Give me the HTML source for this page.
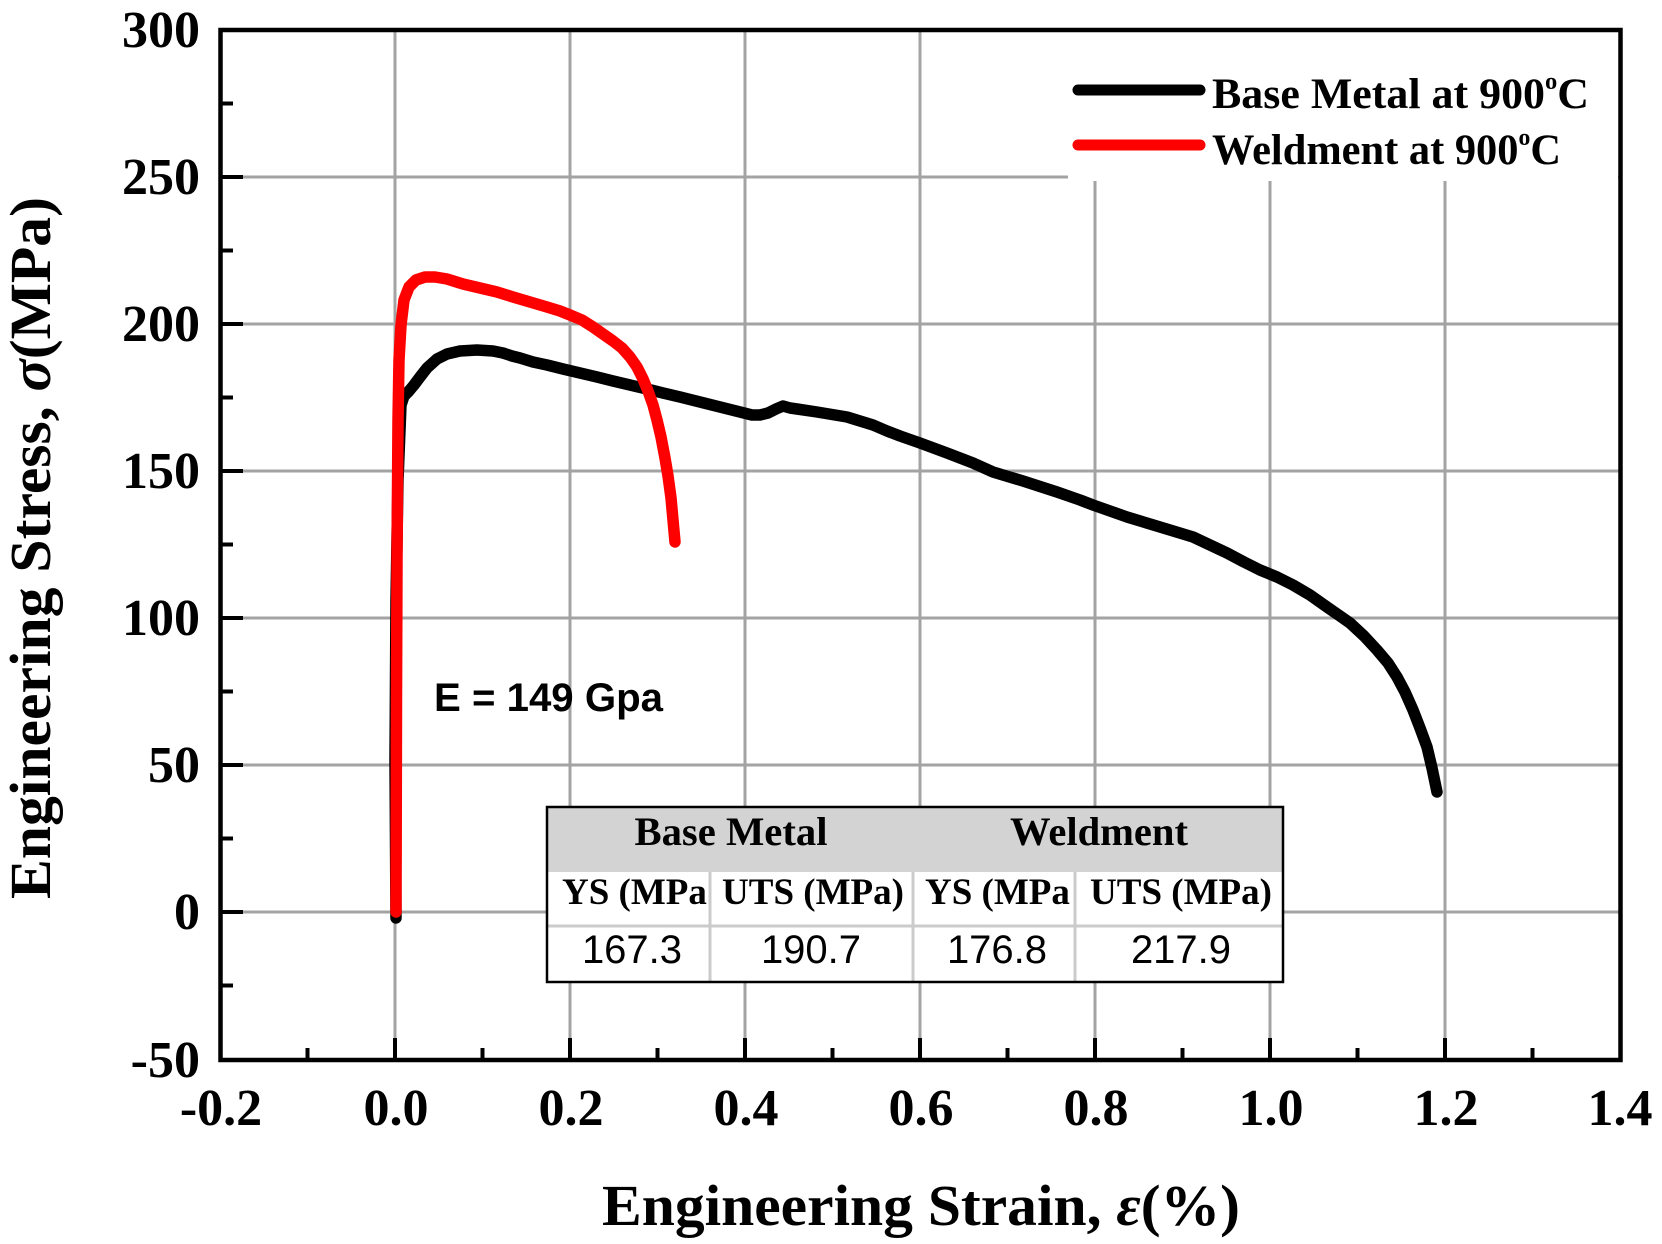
<!DOCTYPE html>
<html>
<head>
<meta charset="utf-8">
<style>
html,body{margin:0;padding:0;background:#fff;}
svg{display:block;}
</style>
</head>
<body>
<svg width="1662" height="1244" viewBox="0 0 1662 1244" xmlns="http://www.w3.org/2000/svg">
<rect x="0" y="0" width="1662" height="1244" fill="#fff"/>

<!-- gridlines -->
<g stroke="#a3a3a3" stroke-width="3">
  <line x1="395" y1="30" x2="395" y2="1060"/>
  <line x1="570" y1="30" x2="570" y2="1060"/>
  <line x1="745" y1="30" x2="745" y2="1060"/>
  <line x1="920" y1="30" x2="920" y2="1060"/>
  <line x1="1095" y1="30" x2="1095" y2="1060"/>
  <line x1="1270" y1="30" x2="1270" y2="1060"/>
  <line x1="1445" y1="30" x2="1445" y2="1060"/>
  <line x1="220" y1="177" x2="1620" y2="177"/>
  <line x1="220" y1="324" x2="1620" y2="324"/>
  <line x1="220" y1="471" x2="1620" y2="471"/>
  <line x1="220" y1="618" x2="1620" y2="618"/>
  <line x1="220" y1="765" x2="1620" y2="765"/>
  <line x1="220" y1="912" x2="1620" y2="912"/>
</g>

<!-- legend background -->
<rect x="1068" y="32" width="550" height="149" fill="#fff"/>

<!-- black curve -->
<path fill="none" stroke="#000" stroke-width="11.5" stroke-linecap="round" stroke-linejoin="round"
d="M396,918 L395,760 L396,600 L398,480 L400,430 L401,405 L404,396 L409,391 L414,385 L420,377 L427,368 L437,359 L447,354 L460,351 L477,350 L493,351 L503,353 L512,356 L520,358 L533,362 L547,365 L563,369 L580,373 L597,377 L613,381 L630,385 L647,389 L663,393 L680,397 L700,402 L720,407 L740,412 L752,415 L760,415 L768,413 L776,409 L783,406 L790,408 L797,409 L817,412 L835,415 L847,417 L860,421 L873,425 L887,431 L900,436 L920,443 L947,453 L973,463 L993,472 L1023,481 L1057,492 L1080,500 L1093,505 L1127,517 L1160,527 L1193,537 L1210,545 L1227,553 L1244,562 L1260,570 L1277,577 L1293,585 L1310,595 L1327,607 L1340,616 L1350,623 L1364,636 L1377,650 L1388,663 L1397,677 L1405,692 L1413,710 L1420,728 L1427,747 L1432,768 L1437,792"/>

<!-- red curve -->
<path fill="none" stroke="#ff0000" stroke-width="11.5" stroke-linecap="round" stroke-linejoin="round"
d="M396,912 L396.5,700 L397,560 L398,420 L399,360 L401,325 L404,300 L409,287 L416,280 L425,277 L435,277 L447,279 L463,284 L480,288 L497,292 L513,297 L530,302 L547,307 L560,311 L570,315 L582,320 L593,327 L603,334 L613,341 L622,348 L630,357 L637,367 L643,379 L648,391 L653,405 L657,420 L661,437 L665,458 L668,476 L671,498 L673,520 L675,542"/>

<!-- table -->
<rect x="547" y="807" width="736" height="175" fill="#fff"/>
<rect x="547" y="807" width="736" height="65" fill="#d3d3d3"/>
<g stroke="#cbcbcb" stroke-width="3">
  <line x1="547" y1="926" x2="1283" y2="926"/>
  <line x1="710" y1="872" x2="710" y2="982"/>
  <line x1="913" y1="872" x2="913" y2="982"/>
  <line x1="1075" y1="872" x2="1075" y2="982"/>
</g>
<rect x="547" y="807" width="736" height="175" fill="none" stroke="#000" stroke-width="2.5"/>
<g font-family="'Liberation Serif', serif" font-weight="bold" fill="#000">
  <text x="731" y="845" font-size="40" text-anchor="middle" textLength="193" lengthAdjust="spacingAndGlyphs">Base Metal</text>
  <text x="1099" y="845" font-size="40" text-anchor="middle" textLength="178" lengthAdjust="spacingAndGlyphs">Weldment</text>
  <text x="562" y="904" font-size="37">YS (MPa</text>
  <text x="813" y="904" font-size="37" text-anchor="middle">UTS (MPa)</text>
  <text x="925" y="904" font-size="37">YS (MPa</text>
  <text x="1181" y="904" font-size="37" text-anchor="middle">UTS (MPa)</text>
</g>
<g font-family="'Liberation Sans', sans-serif" font-size="40" fill="#000" text-anchor="middle">
  <text x="632" y="963">167.3</text>
  <text x="811" y="963">190.7</text>
  <text x="997" y="963">176.8</text>
  <text x="1181" y="963">217.9</text>
</g>

<!-- annotation -->
<text x="434" y="711" font-family="'Liberation Sans', sans-serif" font-weight="bold" font-size="40" textLength="229" lengthAdjust="spacingAndGlyphs">E = 149 Gpa</text>

<!-- legend -->
<line x1="1078" y1="90" x2="1200" y2="90" stroke="#000" stroke-width="11" stroke-linecap="round"/>
<line x1="1078" y1="145" x2="1200" y2="145" stroke="#ff0000" stroke-width="11" stroke-linecap="round"/>
<g font-family="'Liberation Serif', serif" font-weight="bold" fill="#000">
  <text x="1212" y="108" font-size="43" textLength="377" lengthAdjust="spacingAndGlyphs">Base Metal at 900<tspan font-size="24" dy="-19">o</tspan><tspan dy="19">C</tspan></text>
  <text x="1212" y="164" font-size="43" textLength="349" lengthAdjust="spacingAndGlyphs">Weldment at 900<tspan font-size="24" dy="-19">o</tspan><tspan dy="19">C</tspan></text>
</g>

<!-- ticks -->
<g stroke="#000" stroke-width="4">
  <line x1="221" y1="177" x2="243" y2="177"/>
  <line x1="221" y1="324" x2="243" y2="324"/>
  <line x1="221" y1="471" x2="243" y2="471"/>
  <line x1="221" y1="618" x2="243" y2="618"/>
  <line x1="221" y1="765" x2="243" y2="765"/>
  <line x1="221" y1="912" x2="243" y2="912"/>
  <line x1="221" y1="103.5" x2="233" y2="103.5"/>
  <line x1="221" y1="250.5" x2="233" y2="250.5"/>
  <line x1="221" y1="397.5" x2="233" y2="397.5"/>
  <line x1="221" y1="544.5" x2="233" y2="544.5"/>
  <line x1="221" y1="691.5" x2="233" y2="691.5"/>
  <line x1="221" y1="838.5" x2="233" y2="838.5"/>
  <line x1="221" y1="985.5" x2="233" y2="985.5"/>
  <line x1="395" y1="1060" x2="395" y2="1038"/>
  <line x1="570" y1="1060" x2="570" y2="1038"/>
  <line x1="745" y1="1060" x2="745" y2="1038"/>
  <line x1="920" y1="1060" x2="920" y2="1038"/>
  <line x1="1095" y1="1060" x2="1095" y2="1038"/>
  <line x1="1270" y1="1060" x2="1270" y2="1038"/>
  <line x1="1445" y1="1060" x2="1445" y2="1038"/>
  <line x1="307.5" y1="1060" x2="307.5" y2="1048"/>
  <line x1="482.5" y1="1060" x2="482.5" y2="1048"/>
  <line x1="657.5" y1="1060" x2="657.5" y2="1048"/>
  <line x1="832.5" y1="1060" x2="832.5" y2="1048"/>
  <line x1="1007.5" y1="1060" x2="1007.5" y2="1048"/>
  <line x1="1182.5" y1="1060" x2="1182.5" y2="1048"/>
  <line x1="1357.5" y1="1060" x2="1357.5" y2="1048"/>
  <line x1="1532.5" y1="1060" x2="1532.5" y2="1048"/>
</g>

<!-- axes frame -->
<rect x="220.5" y="30" width="1400" height="1030" fill="none" stroke="#000" stroke-width="4.5"/>

<!-- y tick labels -->
<g font-family="'Liberation Serif', serif" font-weight="bold" font-size="52" fill="#000" text-anchor="end">
  <text x="200" y="47">300</text>
  <text x="200" y="194">250</text>
  <text x="200" y="341">200</text>
  <text x="200" y="488">150</text>
  <text x="200" y="635">100</text>
  <text x="200" y="782">50</text>
  <text x="200" y="929">0</text>
  <text x="200" y="1077">-50</text>
</g>

<!-- x tick labels -->
<g font-family="'Liberation Serif', serif" font-weight="bold" font-size="52" fill="#000" text-anchor="middle">
  <text x="221" y="1125">-0.2</text>
  <text x="396" y="1125">0.0</text>
  <text x="571" y="1125">0.2</text>
  <text x="746" y="1125">0.4</text>
  <text x="921" y="1125">0.6</text>
  <text x="1096" y="1125">0.8</text>
  <text x="1271" y="1125">1.0</text>
  <text x="1446" y="1125">1.2</text>
  <text x="1620" y="1125">1.4</text>
</g>

<!-- axis titles -->
<text x="921" y="1225" font-family="'Liberation Serif', serif" font-weight="bold" font-size="58" text-anchor="middle" textLength="638" lengthAdjust="spacingAndGlyphs">Engineering Strain, <tspan font-style="italic">ε</tspan>(%)</text>
<text transform="translate(50,548) rotate(-90)" x="0" y="0" font-family="'Liberation Serif', serif" font-weight="bold" font-size="58" text-anchor="middle" textLength="702" lengthAdjust="spacingAndGlyphs">Engineering Stress, <tspan font-style="italic">σ</tspan>(MPa)</text>
</svg>
</body>
</html>
